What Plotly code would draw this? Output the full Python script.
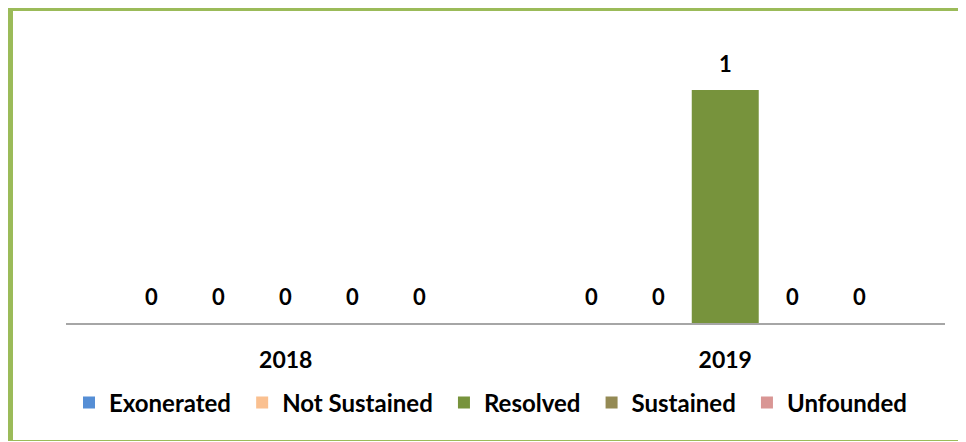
import plotly.graph_objects as go

years = ["2018", "2019"]
series_names = ["Exonerated", "Not Sustained", "Resolved", "Sustained", "Unfounded"]
exonerated = [0, 0]
not_sustained = [0, 0]
resolved = [0, 1]
sustained = [0, 0]
unfounded = [0, 0]
series_values = [exonerated, not_sustained, resolved, sustained, unfounded]
colors = ["#558ED5", "#FAC090", "#77933C", "#948A54", "#D99694"]

FONT = "Lato"
OFF = 8  # page body margin
W, H = 966 - OFF, 442 - OFF
ML, MR, MT, MB = 66 - OFF, 21, 30 - OFF, 119
BARGAP = 0.238

fig = go.Figure()
for name, vals, col in zip(series_names, series_values, colors):
    fig.add_trace(go.Bar(
        name="<b>" + name + "</b>\u00a0", x=years, y=vals,
        marker=dict(color=col, line=dict(width=0)),
    ))

# value labels above bars, placed through the category axis
n = len(series_names)
slot = (1 - BARGAP) / n
annotations = []
for k, vals in enumerate(series_values):
    for i, v in enumerate(vals):
        annotations.append(dict(
            x=i + (k - (n - 1) / 2) * slot, y=v, xref="x", yref="y",
            text="<b>" + str(v) + "</b>", showarrow=False, yshift=27,
            font=dict(family=FONT, size=22, color="#000000"),
        ))

pw = W - ML - MR
ph = H - MT - MB
def px_x(p):
    return (p - OFF - ML) / pw
def px_y(p):
    return (H - MB - (p - OFF)) / ph

border = "#9BBB59"
shapes = [
    dict(type="line", xref="paper", yref="paper", x0=px_x(10.5), x1=px_x(10.5), y0=px_y(8), y1=px_y(441), line=dict(color=border, width=5)),
    dict(type="line", xref="paper", yref="paper", x0=px_x(8), x1=px_x(966), y0=px_y(9.5), y1=px_y(9.5), line=dict(color=border, width=3)),
    dict(type="line", xref="paper", yref="paper", x0=px_x(8), x1=px_x(966), y0=px_y(440.5), y1=px_y(440.5), line=dict(color=border, width=1)),
]

fig.update_layout(
    width=W, height=H,
    margin=dict(l=ML, r=MR, t=MT, b=MB),
    paper_bgcolor="#FFFFFF", plot_bgcolor="#FFFFFF",
    barmode="group", bargap=BARGAP, bargroupgap=0.0,
    font=dict(family=FONT, size=22, color="#000000"),
    showlegend=True,
    legend=dict(orientation="h", x=px_x(494), xanchor="center", y=px_y(403), yanchor="middle",
                font=dict(family=FONT, size=24, color="#000000"), itemwidth=30,
                bgcolor="rgba(0,0,0,0)", traceorder="normal"),
    xaxis=dict(showline=True, linecolor="#A6A6A6", linewidth=2, ticks="outside", ticklen=15,
               tickcolor="rgba(0,0,0,0)", tickfont=dict(family=FONT, size=23, color="#000000"),
               tickvals=years, ticktext=["<b>" + y + "</b>" for y in years],
               showgrid=False, zeroline=False),
    yaxis=dict(range=[0, 293 / 233], visible=False, showgrid=False, zeroline=False),
    shapes=shapes,
    annotations=annotations,
)

fig.write_html("out.html")
